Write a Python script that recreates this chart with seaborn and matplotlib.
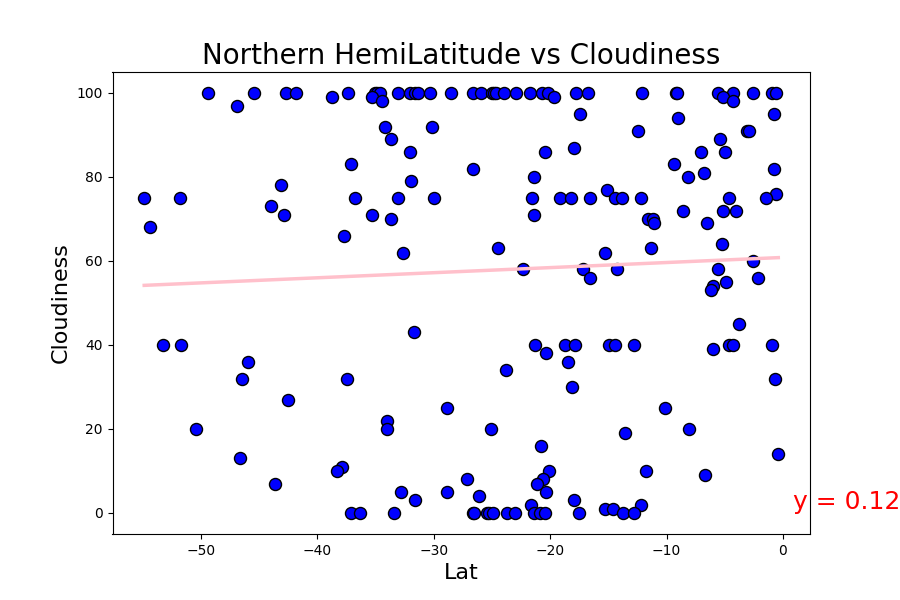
import pandas as pd
import matplotlib
matplotlib.use("Agg")
import matplotlib.pyplot as plt
import seaborn as sns

# values, two lists in the same order
lat = [
    -49.37, -45.42, -42.7, -41.84, -37.34, -35.05, -34.9, -34.62, -33.05, -32.08, -31.62, -31.33, -30.3, -28.5,
    -26.66, -25.92, -25.03, -24.8, -24.69, -24.0, -22.97, -21.71, -20.68, -20.16, -17.76, -16.72, -12.09,
    -9.16, -9.08, -5.56, -4.27, -2.55, -0.92, -0.63,
    -38.72, -35.28, -19.7, -5.13, -34.42, -4.27, -46.88, -17.41, -0.75, -8.99,
    -34.17, -30.13, -12.43, -3.07, -2.89, -33.71, -5.39, -17.93, -32.0, -20.42, -7.02, -4.96,
    -37.09, -9.34, -26.6, -0.75, -6.76, -21.36, -8.13, -31.93, -43.1, -15.09, -0.57,
    -54.87, -51.78, -36.74, -33.05, -29.96, -21.54, -19.16, -18.19, -16.55, -14.4, -13.8, -12.17, -4.61, -1.43,
    -43.96, -8.56, -5.13, -4.01, -42.84, -35.34, -21.36, -33.65, -11.57, -11.14, -54.35, -11.05, -6.5,
    -37.69, -5.21, -24.46, -11.31, -32.62, -15.26, -2.55, -22.31, -17.15, -14.23, -5.56, -16.55, -2.12,
    -4.87, -6.04, -6.19,
    -3.75, -31.67, -53.24, -51.69, -21.28, -18.7, -17.84, -14.92, -14.46, -12.77, -4.61, -4.27, -0.92,
    -5.99, -20.33, -45.94, -18.44, -23.77, -46.45, -37.43, -0.66, -18.1, -42.5, -28.84, -10.11,
    -33.99, -33.99, -50.4, -25.06, -8.05, -13.55, -20.76, -0.4, -46.62, -37.86, -38.29, -20.08, -11.74,
    -6.67, -27.12, -20.59, -43.62, -21.11, -32.79, -28.84, -20.33, -26.09, -31.59, -17.93, -21.62, -12.17,
    -15.26, -14.58, -37.09, -36.29, -33.39, -26.66, -26.58, -25.4, -25.23, -24.89, -23.68, -23.0,
    -21.36, -20.88, -20.42, -17.5, -13.72, -12.77,
]
cloudiness = [
    100, 100, 100, 100, 100, 100, 100, 100, 100, 100, 100, 100, 100, 100,
    100, 100, 100, 100, 100, 100, 100, 100, 100, 100, 100, 100, 100,
    100, 100, 100, 100, 100, 100, 100,
    99, 99, 99, 99, 98, 98, 97, 95, 95, 94,
    92, 92, 91, 91, 91, 89, 89, 87, 86, 86, 86, 86,
    83, 83, 82, 82, 81, 80, 80, 79, 78, 77, 76,
    75, 75, 75, 75, 75, 75, 75, 75, 75, 75, 75, 75, 75, 75,
    73, 72, 72, 72, 71, 71, 71, 70, 70, 70, 68, 69, 69,
    66, 64, 63, 63, 62, 62, 60, 58, 58, 58, 58, 56, 56,
    55, 54, 53,
    45, 43, 40, 40, 40, 40, 40, 40, 40, 40, 40, 40, 40,
    39, 38, 36, 36, 34, 32, 32, 32, 30, 27, 25, 25,
    22, 20, 20, 20, 20, 19, 16, 14, 13, 11, 10, 10, 10,
    9, 8, 8, 7, 7, 5, 5, 5, 4, 3, 3, 2, 2,
    1, 1, 0, 0, 0, 0, 0, 0, 0, 0, 0, 0,
    0, 0, 0, 0, 0, 0,
]

# fitted line as it reads on the chart
line_lat = [-54.87, -0.4]
line_cloudiness = [54.2, 60.8]

df = pd.DataFrame({"Lat": lat, "Cloudiness": cloudiness})
line_df = pd.DataFrame({"Lat": line_lat, "Cloudiness": line_cloudiness})

fig, ax = plt.subplots(figsize=(9, 6), dpi=100)
sns.scatterplot(data=df, x="Lat", y="Cloudiness", color="blue", edgecolor="black", s=75, linewidth=1, ax=ax)
sns.lineplot(data=line_df, x="Lat", y="Cloudiness", color="pink", linewidth=2.5, ax=ax)

ax.set_title("Northern HemiLatitude vs Cloudiness", fontsize=20)
ax.set_xlabel("Lat", fontsize=16)
ax.set_ylabel("Cloudiness", fontsize=16)
ax.text(0.9, 1, "y = 0.12", color="red", fontsize=18)

plt.savefig("out.png")
